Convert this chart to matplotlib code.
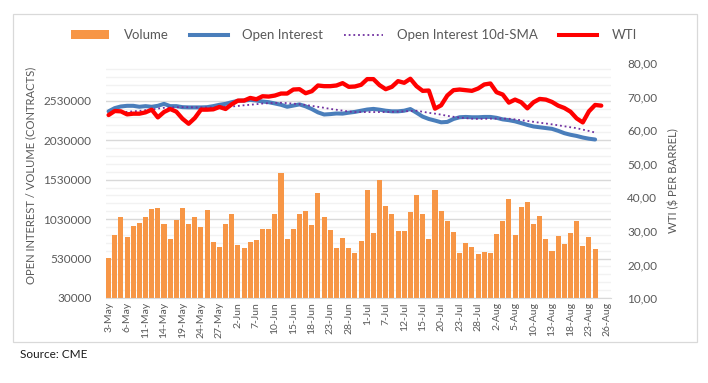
import matplotlib

matplotlib.use("Agg")

import matplotlib.pyplot as plt
import numpy as np
import pandas as pd
from matplotlib.lines import Line2D
from matplotlib.patches import Patch, Rectangle
from matplotlib.ticker import FixedLocator, FuncFormatter

plt.rcParams["font.family"] = ["Lato", "DejaVu Sans"]

# ---------------------------------------------------------------------------
# Data (May-Aug 2021)
# ---------------------------------------------------------------------------

# trading days on the category axis (Memorial Day and 5-Jul missing)
dates = pd.bdate_range("2021-05-03", "2021-08-26").drop(
    pd.to_datetime(["2021-05-31", "2021-07-05"])
)
date_labels = [f"{d.day}-{d:%b}" for d in dates]

volume = [
    540, 825, 1063, 804, 938, 976, 1051, 1164, 1176, 963,
    779, 1017, 1176, 963, 1051, 925, 1151, 737, 674, 963,
    1101, 699, 662, 737, 762, 900, 900, 1089, 1620, 775,
    900, 1101, 1130, 950, 1356, 1063, 892, 666, 787, 666,
    599, 754, 1402, 850, 1528, 1202, 1101, 879, 879, 1118,
    1331, 1089, 779, 1402, 1130, 1005, 863, 599, 725, 674,
    586, 612, 599, 838, 1005, 1281, 825, 1189, 1243, 963,
    1076, 779, 624, 812, 712, 850, 1005, 687, 800, 653,
]  # thousands of contracts

open_interest = [
    2397, 2438, 2459, 2467, 2467, 2455, 2463, 2455, 2467, 2492,
    2463, 2463, 2450, 2447, 2447, 2447, 2450, 2463, 2480, 2492,
    2513, 2530, 2534, 2542, 2534, 2522, 2513, 2497, 2480, 2455,
    2470, 2485, 2460, 2426, 2384, 2357, 2362, 2370, 2368, 2380,
    2390, 2405, 2420, 2428, 2418, 2405, 2397, 2397, 2405, 2426,
    2380, 2330, 2300, 2280, 2258, 2263, 2300, 2322, 2326, 2322,
    2322, 2326, 2326, 2315, 2295, 2285, 2270, 2248, 2225, 2205,
    2195, 2185, 2175, 2150, 2120, 2100, 2085, 2065, 2050, 2040,
]  # thousands

oi_sma10 = [
    None, None, 2388, 2390, 2397, 2403, 2412, 2420, 2432, 2442,
    2447, 2449, 2450, 2449, 2447, 2447, 2447, 2447, 2449, 2453,
    2459, 2465, 2474, 2480, 2488, 2496, 2501, 2503, 2506, 2501,
    2495, 2488, 2478, 2466, 2454, 2442, 2428, 2417, 2406, 2395,
    2388, 2388, 2388, 2388, 2388, 2388, 2390, 2394, 2397, 2401,
    2405, 2392, 2378, 2368, 2355, 2340, 2328, 2318, 2310, 2304,
    2301, 2302, 2304, 2305, 2305, 2303, 2295, 2284, 2275, 2264,
    2253, 2243, 2232, 2220, 2208, 2195, 2184, 2165, 2148, 2128,
]  # thousands

wti = [
    64.5, 65.7, 65.6, 64.7, 64.9, 64.9, 65.3, 66.1, 63.8, 65.4,
    66.3, 65.5, 63.4, 61.9, 63.6, 66.1, 66.1, 66.2, 66.9, 66.3,
    67.7, 68.8, 68.8, 69.6, 69.2, 70.1, 70.0, 70.3, 70.9, 70.9,
    72.1, 72.2, 71.0, 71.6, 73.3, 73.1, 73.1, 73.3, 74.0, 72.9,
    73.0, 73.5, 75.2, 75.2, 73.4, 72.2, 72.9, 74.6, 74.1, 75.3,
    73.1, 71.7, 71.8, 66.4, 67.4, 70.3, 71.9, 72.1, 71.9, 71.7,
    72.4, 73.6, 73.9, 71.3, 70.6, 68.2, 69.1, 68.3, 66.5, 68.3,
    69.3, 69.1, 68.4, 67.3, 66.6, 65.5, 63.5, 62.3, 65.6, 67.5,
    67.3,
]

left_ticks = [30000, 530000, 1030000, 1530000, 2030000, 2530000]
right_ticks = [10, 20, 30, 40, 50, 60, 70, 80]

# ---------------------------------------------------------------------------
# Styles
# ---------------------------------------------------------------------------

C_VOL = "#F79646"
C_OI = "#4A7EBB"
C_SMA = "#7030A0"
C_WTI = "#FF0000"
C_TXT = "#595959"
C_MAJ = "#D9D9D9"
C_MIN = "#F2F2F2"

fig = plt.figure(figsize=(7.08, 3.83), dpi=100)
W, H = 708, 383

# outer chart frame
fig.patches.append(
    Rectangle((13 / W, 1 - 342 / H), 684 / W, 328 / H, transform=fig.transFigure,
              fill=False, edgecolor=C_MAJ, linewidth=0.9)
)

ax = fig.add_axes([105.5 / W, 1 - 298 / H, 505 / W, 235 / H])
ax2 = ax.twinx()

x = np.arange(len(dates))
vol = np.array(volume) * 1000
oi = np.array(open_interest) * 1000
sma = np.array([np.nan if v is None else v * 1000 for v in oi_sma10])

ax.bar(x[: len(vol)], vol, width=0.82, color=C_VOL, zorder=2)
ax.plot(x[: len(oi)], oi, color=C_OI, lw=2.9, solid_capstyle="round", zorder=3)
ax.plot(x[: len(sma)], sma, color=C_SMA, lw=1.3, ls=(0, (1, 1.6)), zorder=4)
ax2.plot(x[: len(wti)], wti, color=C_WTI, lw=3.1, solid_capstyle="round",
         solid_joinstyle="round", zorder=5)

ax.set_xlim(-0.5, len(dates) - 0.5)
ax.set_ylim(30000, 3010000)
ax2.set_ylim(10, 80)

# grid: major every 500k, minor every 100k
ax.yaxis.set_major_locator(FixedLocator(left_ticks))
ax.yaxis.set_minor_locator(FixedLocator(np.arange(30000, 3010000, 100000)))
ax.yaxis.set_major_formatter(FuncFormatter(lambda v, _: f"{v:.0f}"))
ax.grid(axis="y", which="minor", color=C_MIN, lw=1.0, zorder=0)
ax.grid(axis="y", which="major", color=C_MAJ, lw=1.0, zorder=0)
ax.set_axisbelow(True)

ax2.set_yticks(right_ticks)
ax2.yaxis.set_major_formatter(FuncFormatter(lambda v, _: f"{v:.2f}".replace(".", ",")))

ax.set_xticks(x[::3])
ax.set_xticklabels(date_labels[::3], rotation=90)

for a in (ax, ax2):
    for s in ("top", "left", "right"):
        a.spines[s].set_visible(False)
    a.spines["bottom"].set_color(C_MAJ)
ax2.spines["bottom"].set_visible(False)

ax.tick_params(axis="x", length=0, pad=3, labelsize=7.5, labelcolor=C_TXT)
ax.tick_params(axis="y", which="both", length=0, pad=10, labelsize=8.5, labelcolor=C_TXT)
ax2.tick_params(axis="y", length=0, pad=12, labelsize=8.5, labelcolor=C_TXT)

ax.set_ylabel("OPEN INTEREST / VOLUME (CONTRACTS)", fontsize=8.1, color=C_TXT)
ax.yaxis.set_label_coords(-0.138, 0.52)
ax2.set_ylabel("WTI ($ PER BARREL)", fontsize=8.2, color=C_TXT, labelpad=8)

handles = [
    Patch(facecolor=C_VOL, edgecolor="none"),
    Line2D([], [], color=C_OI, lw=2.9),
    Line2D([], [], color=C_SMA, lw=1.3, ls=(0, (1, 1.6))),
    Line2D([], [], color=C_WTI, lw=2.9),
]
fig.legend(handles, ["Volume", "Open Interest", "Open Interest 10d-SMA", "WTI"],
           loc="center", bbox_to_anchor=(0.5, 1 - 35 / H), ncol=4, frameon=False,
           fontsize=9.5, labelcolor=C_TXT, handlelength=2.9, handleheight=0.6,
           handletextpad=1.1, columnspacing=1.6)

fig.text(20 / W, 1 - 355 / H, "Source: CME", fontsize=8.5, color="#1a1a1a", va="center")

fig.savefig("out.png", dpi=100)
